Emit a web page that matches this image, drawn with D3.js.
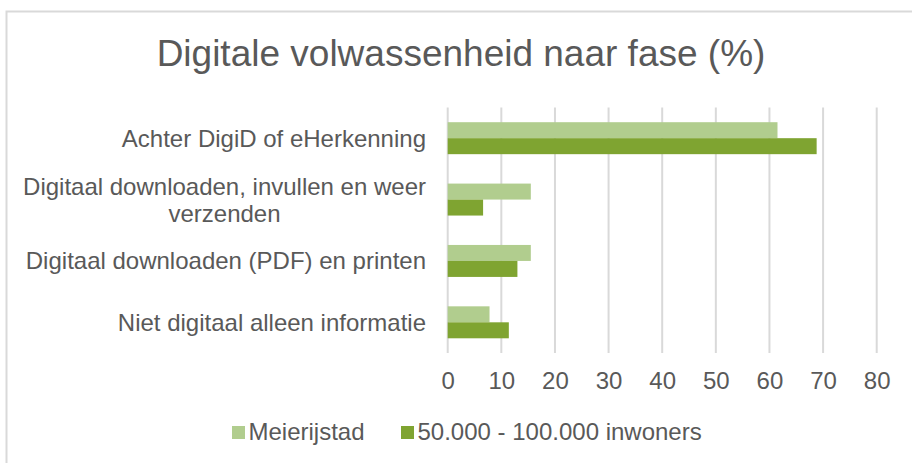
<!DOCTYPE html>
<html>
<head>
<meta charset="utf-8">
<script src="https://cdn.jsdelivr.net/npm/d3@7"></script>
<style>
  html, body { margin: 0; padding: 0; background: #fff; }
  svg { display: block; font-family: "Liberation Sans", Arial, sans-serif; }
</style>
</head>
<body>
<svg id="chart" width="912" height="463"></svg>
<script>
// Phases of digital maturity (top to bottom) and the share per group, in %
const categories = [
  "Achter DigiD of eHerkenning",
  "Digitaal downloaden, invullen en weer\nverzenden",
  "Digitaal downloaden (PDF) en printen",
  "Niet digitaal alleen informatie"
];
const seriesNames = ["Meierijstad", "50.000 - 100.000 inwoners"];
const meierijstad = [61.5, 15.5, 15.5, 7.8];
const inwoners = [68.8, 6.6, 13.0, 11.4];
const xTicks = [0, 10, 20, 30, 40, 50, 60, 70, 80];
const title = "Digitale volwassenheid naar fase (%)";

const colors = ["#b1cd8e", "#7fa431"];
const textColor = "#595959";
const gridColor = "#d9d9d9";
const fontFamily = "'Liberation Sans', Arial, sans-serif";
const labelSize = 24;

const svg = d3.select("#chart");
const W = 912, H = 463;

// Chart area border (only top and left edges fall inside the view)
svg.append("rect")
  .attr("x", 6.5).attr("y", 11.5)
  .attr("width", W + 20).attr("height", H + 20)
  .attr("fill", "#fff")
  .attr("stroke", gridColor).attr("stroke-width", 2);

// Title
svg.append("text")
  .attr("x", 461).attr("y", 66)
  .attr("text-anchor", "middle")
  .attr("font-size", 37)
  .attr("fill", textColor)
  .text(title);

// Scales
const plot = { left: 447.7, right: 876.7, top: 107.5, bottom: 353 };
const x = d3.scaleLinear().domain([0, 80]).range([plot.left, plot.right]);
const y0 = d3.scaleBand().domain(categories).range([plot.top, plot.bottom]).padding(0);
const y1 = d3.scaleBand().domain(seriesNames).range([0, y0.bandwidth()])
  .paddingInner(0).paddingOuter(0.92);

// Vertical gridlines
svg.append("g").selectAll("line")
  .data(xTicks)
  .join("line")
  .attr("x1", d => x(d)).attr("x2", d => x(d))
  .attr("y1", plot.top).attr("y2", plot.bottom)
  .attr("stroke", gridColor).attr("stroke-width", 2);

// Bars
const rows = categories.map((c, i) => ({ cat: c, values: [meierijstad[i], inwoners[i]] }));
const groups = svg.append("g").selectAll("g")
  .data(rows)
  .join("g")
  .attr("transform", d => `translate(0,${y0(d.cat)})`);
groups.selectAll("rect")
  .data(d => d.values.map((v, j) => ({ name: seriesNames[j], v, j })))
  .join("rect")
  .attr("x", x(0))
  .attr("y", d => y1(d.name))
  .attr("width", d => x(d.v) - x(0))
  .attr("height", y1.bandwidth())
  .attr("fill", d => colors[d.j]);

// X axis tick labels
const xAxis = d3.axisBottom(x).tickValues(xTicks).tickSize(0).tickPadding(0).tickFormat(d3.format("d"));
const gx = svg.append("g").attr("transform", `translate(0,${plot.bottom})`).call(xAxis);
gx.select(".domain").remove();
gx.selectAll("text")
  .attr("font-size", labelSize)
  .attr("font-family", fontFamily)
  .attr("fill", textColor)
  .attr("dy", null)
  .attr("y", 36);

// Category labels (right-aligned block, wrapped lines centered within it)
const labelRight = 426;
const lineH = 27;
const labelG = svg.append("g");
categories.forEach(c => {
  const lines = c.split("\n");
  const cy = y0(c) + y0.bandwidth() / 2;
  const t = labelG.append("text")
    .attr("font-size", labelSize)
    .attr("fill", textColor);
  lines.forEach(ln => t.append("tspan").text(ln));
  if (lines.length === 1) {
    t.attr("text-anchor", "end")
      .attr("x", labelRight)
      .attr("y", cy + 8.5);
  } else {
    const widths = [];
    t.selectAll("tspan").each(function () { widths.push(this.getComputedTextLength()); });
    const mid = labelRight - d3.max(widths) / 2;
    const firstBase = cy - ((lines.length - 1) * lineH) / 2 + 8.5;
    t.attr("text-anchor", "middle");
    t.selectAll("tspan")
      .attr("x", mid)
      .attr("y", (d, k) => firstBase + k * lineH);
  }
});

// Legend
const legendItems = [
  { name: seriesNames[0], color: colors[0], x: 232 },
  { name: seriesNames[1], color: colors[1], x: 401 }
];
const lg = svg.append("g").selectAll("g")
  .data(legendItems)
  .join("g")
  .attr("transform", d => `translate(${d.x},0)`);
lg.append("rect")
  .attr("x", 0).attr("y", 426)
  .attr("width", 13).attr("height", 13)
  .attr("fill", d => d.color);
lg.append("text")
  .attr("x", 16.5).attr("y", 440)
  .attr("font-size", labelSize)
  .attr("fill", textColor)
  .text(d => d.name);
</script>
</body>
</html>
